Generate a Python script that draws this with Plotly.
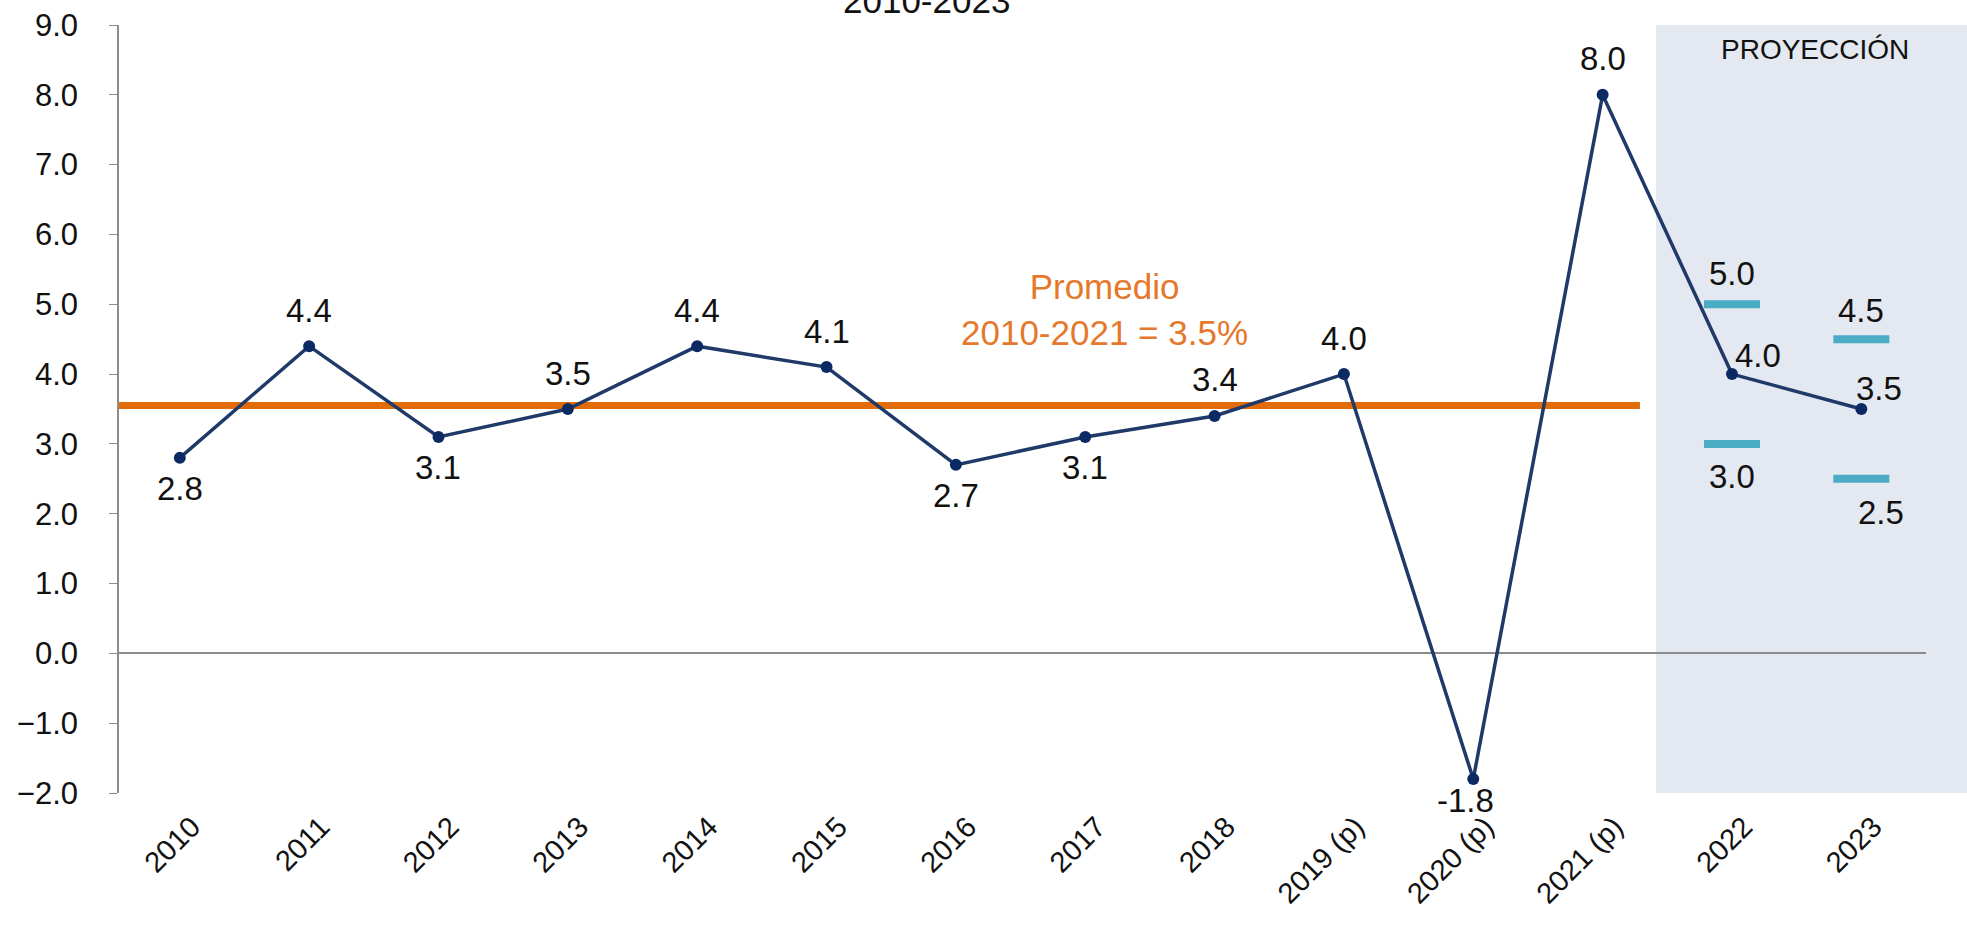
import plotly.graph_objects as go

# Crecimiento anual (%)
years = ['2010', '2011', '2012', '2013', '2014', '2015', '2016', '2017', '2018',
         '2019 (p)', '2020 (p)', '2021 (p)', '2022', '2023']
growth = [2.8, 4.4, 3.1, 3.5, 4.4, 4.1, 2.7, 3.1, 3.4, 4.0, -1.8, 8.0, 4.0, 3.5]

# Rango de proyección
proj_years = ['2022', '2023']
proj_high = [5.0, 4.5]
proj_low = [3.0, 2.5]

avg_value = 3.55
avg_label = 'Promedio<br>2010-2021 = 3.5%'

# desplazamiento de etiquetas (px): (x, y)
ABOVE, BELOW = (0, 36), (0, -31)
growth_label_shift = [BELOW, ABOVE, BELOW, ABOVE, ABOVE, ABOVE, BELOW, BELOW, ABOVE,
                      ABOVE, (-8, -21), ABOVE, (26, 19), (18, 21)]
high_label_shift = [(0, 31), (0, 29)]
low_label_shift = [(0, -33), (20, -34)]

FONT = 'Arial, Liberation Sans, sans-serif'
NAVY = '#1F3A68'
TEAL = '#4BACC6'
ORANGE = '#E36C0A'
LABEL_SIZE = 33

fig = go.Figure()

# Zona de proyección
fig.add_shape(type='rect', xref='paper', yref='y', x0=0.8506, x1=1.03, y0=-2.2, y1=9.05,
              fillcolor='#E4E8F0', line_width=0, layer='below')

# Línea del promedio
fig.add_shape(type='line', xref='paper', yref='y', x0=0, x1=0.8417, y0=avg_value, y1=avg_value,
              line=dict(color=ORANGE, width=7), layer='below')

# Barras de rango
fig.add_trace(go.Scatter(
    x=proj_years + proj_years, y=proj_high + proj_low, mode='markers',
    marker=dict(symbol='line-ew', size=40, line=dict(color=TEAL, width=8)),
    hoverinfo='skip', showlegend=False, cliponaxis=False))

# Serie principal
fig.add_trace(go.Scatter(
    x=years, y=growth, mode='lines+markers',
    line=dict(color=NAVY, width=3.5),
    marker=dict(color='#0B2A63', size=12),
    showlegend=False, cliponaxis=False))


def add_labels(xs, ys, shifts):
    # las anotaciones en eje categórico usan el índice de la categoría
    for x, y, (dx, dy) in zip(xs, ys, shifts):
        fig.add_annotation(x=years.index(x), y=y, text=f'{y:.1f}', showarrow=False,
                           xshift=dx, yshift=dy,
                           font=dict(size=LABEL_SIZE, color='#111111', family=FONT))


add_labels(years, growth, growth_label_shift)
add_labels(proj_years, proj_high, high_label_shift)
add_labels(proj_years, proj_low, low_label_shift)

fig.add_annotation(x=7.15, y=4.93, text=avg_label, showarrow=False,
                   font=dict(size=35, color='#E5782B', family=FONT))
fig.add_annotation(x=12.64, y=8.65, text='PROYECCIÓN', showarrow=False,
                   font=dict(size=28, color='#111111', family=FONT))
fig.add_annotation(x=5.77, y=1, yref='paper', yanchor='bottom', yshift=3,
                   text='2010-2023', showarrow=False,
                   font=dict(size=35, color='#111111', family=FONT))

fig.update_layout(
    width=1967, height=933,
    margin=dict(l=119, r=41, t=25, b=140),
    plot_bgcolor='white', paper_bgcolor='white',
    font=dict(family=FONT, size=28, color='#111111'),
    showlegend=False,
)
fig.update_xaxes(type='category', categoryorder='array', categoryarray=years,
                 range=[-0.47, 13.5], tickangle=-45, automargin=False,
                 showline=False, showgrid=False, ticks='',
                 ticklabelstandoff=10, ticklabelshift=12,
                 tickfont=dict(size=29))
fig.update_yaxes(range=[-2, 9], dtick=1, tickformat='.1f', showgrid=False,
                 automargin=False,
                 showline=True, linecolor='#8C8C8C', linewidth=1.5,
                 ticks='outside', ticklen=8, tickcolor='#8C8C8C',
                 ticklabelstandoff=25,
                 zeroline=True, zerolinecolor='#8C8C8C', zerolinewidth=1.5,
                 tickfont=dict(size=31))

# sin margen del body para que la figura empiece en (0, 0)
fig.write_html('out.html', config={'displayModeBar': False},
               post_script="document.body.style.margin='0px';")
